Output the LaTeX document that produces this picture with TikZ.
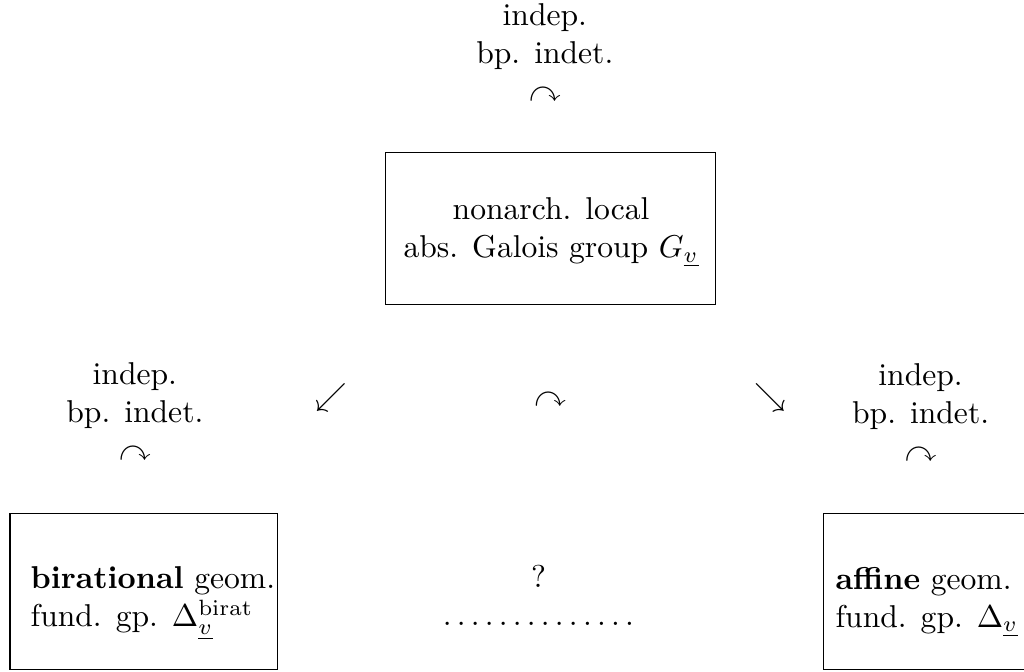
\documentclass[tikz,border=0pt]{standalone}
\usepackage{amsmath,amssymb}
\usepackage{tikz}

\begin{document}
\begin{tikzpicture}[lbl/.style={align=center, inner sep=0pt, anchor=north}, sym/.style={inner sep=0pt}]
  \clip (0,0) rectangle (11.39,7.47);
  % frames
  \draw (4.29,5.77) rectangle (7.96,4.08);
  \draw (0.11,1.76) rectangle (3.09,0.02);
  \draw (9.16,1.76) rectangle (11.8,0.02);
  % local field
  \node[lbl] (topind) at (6.06,7.44) {indep.\\bp. indet.\\$\curvearrowright$};
  \node[lbl] (local) at (6.13,5.28) {nonarch. local\\abs. Galois group $G_{\underline{v}}$};
  % arrows in the middle row
  \node[sym] (sw) at (3.68,3.05) {$\swarrow$};
  \node[sym] (mid) at (6.12,3.02) {$\curvearrowright$};
  \node[sym] (se) at (8.57,3.05) {$\searrow$};
  % birational side
  \node[lbl] (leftind) at (1.50,3.44) {indep.\\bp. indet.\\$\curvearrowright$};
  \node[lbl, align=left] (birat) at (1.70,1.17) {\textbf{birational} geom.\\fund. gp. $\Delta^{\mathrm{birat}}_{\underline{v}}$};
  % affine side
  \node[lbl] (rightind) at (10.24,3.43) {indep.\\bp. indet.\\$\curvearrowright$};
  \node[lbl, align=left] (affine) at (10.31,1.17) {\textbf{affine} geom.\\fund. gp. $\Delta_{\underline{v}}$};
  % unknown link
  \node[lbl] (quest) at (5.99,1.19) {?\\$\ldots\ldots\ldots\ldots\ldotp\ldotp$};
\end{tikzpicture}
\end{document}
